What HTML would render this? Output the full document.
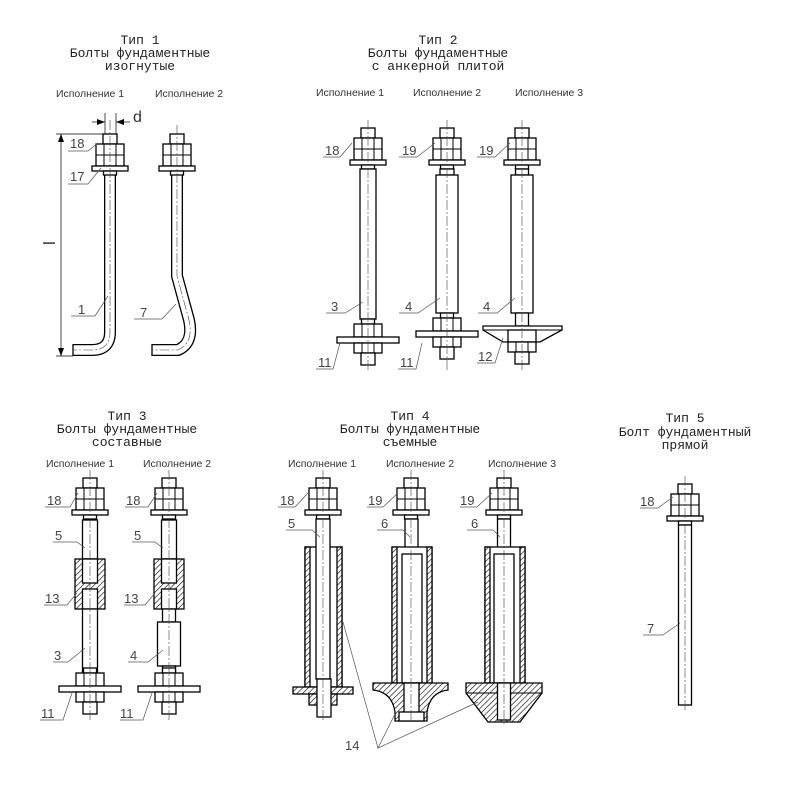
<!DOCTYPE html>
<html><head><meta charset="utf-8"><style>
html,body{margin:0;padding:0;background:#fff}
svg{display:block}
.t{font-family:"Liberation Mono",monospace;font-size:13px;fill:#222;text-anchor:middle}
.e{font-family:"Liberation Sans",sans-serif;font-size:10.5px;fill:#333;text-anchor:middle}
.n{font-family:"Liberation Sans",sans-serif;font-size:13px;fill:#444}
.d rect,.d path,.d polygon{fill:#fff;stroke:#000;stroke-width:1.3}
.d line{stroke:#000;stroke-width:1}
.d rect.h,.d path.h,.d polygon.h{fill:url(#h)}
.c{stroke:#444;stroke-width:0.6;stroke-dasharray:10 2 2 2;fill:none}
.l{stroke:#555;stroke-width:0.7;fill:none}
</style></head><body>
<svg width="800" height="790" viewBox="0 0 800 790" xmlns="http://www.w3.org/2000/svg">
<defs>
<pattern id="h" width="4" height="4" patternUnits="userSpaceOnUse" patternTransform="rotate(45)">
<rect width="4" height="4" fill="#fff"/><line x1="0" y1="0" x2="0" y2="4" stroke="#000" stroke-width="1.2"/></pattern>
<marker id="a" markerWidth="8" markerHeight="6" refX="8" refY="3" orient="auto" markerUnits="userSpaceOnUse"><path d="M0,0 L8,3 L0,6z" fill="#000"/></marker>
<g id="top" fill="#fff" stroke="#000" stroke-width="1.3">
<rect x="-7" y="0" width="14" height="10"/><rect x="-14" y="10" width="28" height="22"/>
<line x1="-6" y1="10" x2="-6" y2="32" stroke-width="1"/><line x1="6" y1="10" x2="6" y2="32" stroke-width="1"/><line x1="-14" y1="21" x2="14" y2="21" stroke-width="1"/>
<rect x="-18" y="32" width="36" height="5"/><rect x="-6.5" y="37" width="13" height="4"/>
</g>
<g id="bot" fill="#fff" stroke="#000" stroke-width="1.3">
<rect x="-6.5" y="0" width="13" height="5"/>
<rect x="-14" y="5" width="28" height="13"/><line x1="-6" y1="5" x2="-6" y2="18" stroke-width="1"/><line x1="6" y1="5" x2="6" y2="18" stroke-width="1"/>
<rect x="-31" y="18" width="62" height="6"/>
<rect x="-14" y="24" width="28" height="10"/><line x1="-6" y1="24" x2="-6" y2="34" stroke-width="1"/><line x1="6" y1="24" x2="6" y2="34" stroke-width="1"/>
<rect x="-7" y="34" width="14" height="12"/>
</g>
</defs>

<!-- Type 1 rods -->
<g fill="none">
<path d="M110,171 L110,332 Q110,350 92,350 L73,350" stroke="#000" stroke-width="12"/>
<path d="M110,171 L110,332 Q110,350 92,350 L73,350" stroke="#fff" stroke-width="9.4"/>
<path d="M177,171 L177,276 L189,320 Q194,343 178,350 L152,350" stroke="#000" stroke-width="12" stroke-linejoin="round"/>
<path d="M177,171 L177,276 L189,320 Q194,343 178,350 L152,350" stroke="#fff" stroke-width="9.4" stroke-linejoin="round"/>
<line x1="73" y1="344" x2="73" y2="356" stroke="#000" stroke-width="1.3"/>
<line x1="152" y1="344" x2="152" y2="356" stroke="#000" stroke-width="1.3"/>
</g>

<g class="d">
<use href="#top" x="110" y="134"/>
<use href="#top" x="177" y="134"/>

<!-- Type 2 -->
<use href="#top" x="368" y="128"/><rect x="360" y="169" width="16" height="150"/><use href="#bot" x="368" y="319"/>
<use href="#top" x="447" y="128"/><rect x="440" y="169" width="14" height="6"/><rect x="436" y="175" width="22" height="138"/><use href="#bot" x="447" y="313"/>
<use href="#top" x="522" y="128"/><rect x="515.5" y="169" width="13" height="6"/><rect x="511" y="175" width="22" height="138"/><rect x="515.5" y="313" width="13" height="13"/>
<polygon points="483,326 562,326 562,330 540,342 503,342 483,330"/><line x1="483" y1="330" x2="562" y2="330"/>
<rect x="508" y="330" width="28" height="12"/>
<rect x="508" y="342" width="28" height="10"/><line x1="516" y1="342" x2="516" y2="352"/><line x1="528" y1="342" x2="528" y2="352"/>
<rect x="515" y="352" width="14" height="12"/>

<!-- Type 3 exec 1 -->
<use href="#top" x="90" y="478"/>
<rect x="82.5" y="520" width="15" height="39"/>
<rect class="h" x="75" y="559" width="30" height="50"/>
<rect x="82.5" y="559" width="15" height="24"/><rect x="82.5" y="589" width="15" height="20"/><line x1="82.5" y1="583" x2="97.5" y2="583"/>
<rect x="82.5" y="609" width="15" height="64"/>
<use href="#bot" x="90" y="668"/>
<!-- Type 3 exec 2 -->
<use href="#top" x="169" y="478"/>
<rect x="161.5" y="520" width="15" height="39"/>
<rect class="h" x="154" y="559" width="30" height="50"/>
<rect x="161.5" y="559" width="15" height="24"/><rect x="161.5" y="589" width="15" height="20"/><line x1="161.5" y1="583" x2="176.5" y2="583"/>
<rect x="162.5" y="609" width="13" height="13"/><rect x="157.5" y="622" width="23" height="44"/><rect x="162.5" y="666" width="13" height="7"/>
<use href="#bot" x="169" y="668"/>

<!-- Type 4 exec 1 -->
<use href="#top" x="323" y="478"/>
<rect x="305" y="547" width="37" height="140"/><rect class="h" x="305" y="547" width="5" height="140"/><rect class="h" x="337" y="547" width="5" height="140"/>
<rect x="316" y="519" width="14" height="160"/>
<rect class="h" x="293" y="687" width="60" height="7"/><rect class="h" x="309" y="694" width="28" height="11"/>
<rect x="317" y="679" width="14" height="38"/>
<!-- exec 2 -->
<use href="#top" x="411" y="478"/><rect x="405" y="519" width="13" height="35"/>
<rect x="392" y="547" width="40" height="136"/><rect class="h" x="392" y="547" width="5" height="136"/><rect class="h" x="427" y="547" width="5" height="136"/>
<rect x="402" y="554" width="20" height="129"/>
<path class="h" d="M373,683 L448,683 L448,690 Q430,692 427,712 L427,721 L395,721 L395,712 Q392,692 373,690 Z"/>
<rect x="404" y="683" width="15" height="30"/><rect x="399" y="712" width="25" height="9"/>
<!-- exec 3 -->
<use href="#top" x="504" y="478"/><rect x="497.5" y="519" width="13" height="35"/>
<rect x="485" y="547" width="40" height="136"/><rect class="h" x="485" y="547" width="5" height="136"/><rect class="h" x="520" y="547" width="5" height="136"/>
<rect x="494" y="554" width="20" height="129"/>
<polygon class="h" points="466,683 542,683 542,693 520,722 488,722 466,693"/><line x1="466" y1="693" x2="542" y2="693"/>
<rect x="497.5" y="683" width="13" height="37"/>

<!-- Type 5 -->
<use href="#top" x="685" y="484"/><rect x="678.5" y="525" width="13" height="180"/>
</g>

<!-- centerlines -->
<g class="c">
<path d="M110,120 L110,332 Q110,350 92,350 L73,350"/>
<path d="M177,125 L177,276 L189,320 Q194,343 178,350 L152,350"/>
<line x1="368" y1="120" x2="368" y2="370"/><line x1="447" y1="120" x2="447" y2="370"/><line x1="522" y1="120" x2="522" y2="370"/>
<line x1="90" y1="470" x2="90" y2="722"/><line x1="169" y1="470" x2="169" y2="722"/>
<line x1="323" y1="470" x2="323" y2="722"/><line x1="411" y1="470" x2="411" y2="722"/><line x1="504" y1="470" x2="504" y2="726"/>
<line x1="685" y1="476" x2="685" y2="712"/>
</g>

<!-- dimensions -->
<g stroke="#000" stroke-width="0.7" fill="none">
<line x1="105" y1="113" x2="105" y2="134"/><line x1="116" y1="113" x2="116" y2="134"/>
<line x1="92" y1="122" x2="105" y2="122" marker-end="url(#a)"/>
<line x1="130" y1="122" x2="116" y2="122" marker-end="url(#a)"/>
<line x1="56" y1="134" x2="105" y2="134"/><line x1="56" y1="356" x2="73" y2="356"/>
<line x1="61" y1="245" x2="61" y2="134" marker-end="url(#a)"/>
<line x1="61" y1="245" x2="61" y2="356" marker-end="url(#a)"/>
</g>

<!-- leaders -->
<g class="l">
<polyline points="68,151 88,151 98,143"/><polyline points="68,184 88,184 101,168"/>
<polyline points="71,316 95,316 108,296"/><polyline points="134,319 162,319 176,304"/>
<polyline points="323,157 340,157 352,143"/><polyline points="399,157 417,157 435,143"/><polyline points="477,157 495,157 510,143"/>
<polyline points="326,313 345,313 363,302"/><polyline points="399,313 418,313 440,298"/><polyline points="478,313 497,313 515,298"/>
<polyline points="316,369 333,369 340,343"/><polyline points="398,369 416,369 422,343"/><polyline points="477,363 495,363 503,338"/>
<polyline points="45,507 70,507 78,493"/><polyline points="125,507 148,507 157,493"/>
<polyline points="53,542 77,542 85,548"/><polyline points="132,542 155,542 163,548"/>
<polyline points="44,605 67,605 77,593"/><polyline points="124,605 145,605 155,593"/>
<polyline points="53,662 68,662 85,648"/><polyline points="128,662 148,662 163,650"/>
<polyline points="40,720 63,720 72,693"/><polyline points="120,720 143,720 152,693"/>
<polyline points="278,507 295,507 308,493"/><polyline points="367,507 383,507 398,493"/><polyline points="460,507 477,507 492,493"/>
<polyline points="286,530 312,530 320,537"/><polyline points="377,530 403,530 410,537"/><polyline points="467,530 493,530 500,537"/>
<polyline points="343,622 378,748 395,714"/><line x1="378" y1="748" x2="478" y2="702"/>
<polyline points="640,508 658,508 673,497"/><polyline points="643,635 663,635 680,623"/>
</g>

<!-- titles -->
<text class="t" x="140" y="44">Тип 1</text>
<text class="t" x="140" y="57">Болты фундаментные</text>
<text class="t" x="140" y="70">изогнутые</text>
<text class="t" x="438" y="44">Тип 2</text>
<text class="t" x="438" y="57">Болты фундаментные</text>
<text class="t" x="438" y="70">с анкерной плитой</text>
<text class="t" x="127" y="420">Тип 3</text>
<text class="t" x="127" y="433">Болты фундаментные</text>
<text class="t" x="127" y="446">составные</text>
<text class="t" x="410" y="420">Тип 4</text>
<text class="t" x="410" y="433">Болты фундаментные</text>
<text class="t" x="410" y="446">съемные</text>
<text class="t" x="685" y="422">Тип 5</text>
<text class="t" x="685" y="436">Болт фундаментный</text>
<text class="t" x="685" y="449">прямой</text>
<text class="e" x="90" y="97">Исполнение 1</text>
<text class="e" x="189" y="97">Исполнение 2</text>
<text class="e" x="350" y="96">Исполнение 1</text>
<text class="e" x="447" y="96">Исполнение 2</text>
<text class="e" x="549" y="96">Исполнение 3</text>
<text class="e" x="80" y="467">Исполнение 1</text>
<text class="e" x="177" y="467">Исполнение 2</text>
<text class="e" x="322" y="467">Исполнение 1</text>
<text class="e" x="420" y="467">Исполнение 2</text>
<text class="e" x="522" y="467">Исполнение 3</text>
<!-- labels -->
<text class="n" x="70" y="148">18</text>
<text class="n" x="70" y="181">17</text>
<text class="n" x="78" y="314">1</text>
<text class="n" x="140" y="317">7</text>
<text x="133" y="122" style="font-family:'Liberation Sans',sans-serif;font-size:16px;fill:#333">d</text>
<text x="0" y="0" transform="translate(55,245) rotate(-90)" style="font-family:'Liberation Sans',sans-serif;font-size:17px;fill:#333">l</text>
<text class="n" x="325" y="155">18</text>
<text class="n" x="402" y="155">19</text>
<text class="n" x="479" y="155">19</text>
<text class="n" x="331" y="311">3</text>
<text class="n" x="405" y="311">4</text>
<text class="n" x="483" y="311">4</text>
<text class="n" x="318" y="367">11</text>
<text class="n" x="400" y="367">11</text>
<text class="n" x="478" y="361">12</text>
<text class="n" x="47" y="505">18</text>
<text class="n" x="126" y="505">18</text>
<text class="n" x="55" y="540">5</text>
<text class="n" x="134" y="540">5</text>
<text class="n" x="45" y="603">13</text>
<text class="n" x="124" y="603">13</text>
<text class="n" x="54" y="660">3</text>
<text class="n" x="130" y="660">4</text>
<text class="n" x="41" y="718">11</text>
<text class="n" x="120" y="718">11</text>
<text class="n" x="280" y="505">18</text>
<text class="n" x="368" y="505">19</text>
<text class="n" x="460" y="505">19</text>
<text class="n" x="288" y="528">5</text>
<text class="n" x="381" y="528">6</text>
<text class="n" x="471" y="528">6</text>
<text class="n" x="345" y="750">14</text>
<text class="n" x="640" y="506">18</text>
<text class="n" x="647" y="633">7</text>
</svg>
</body></html>
